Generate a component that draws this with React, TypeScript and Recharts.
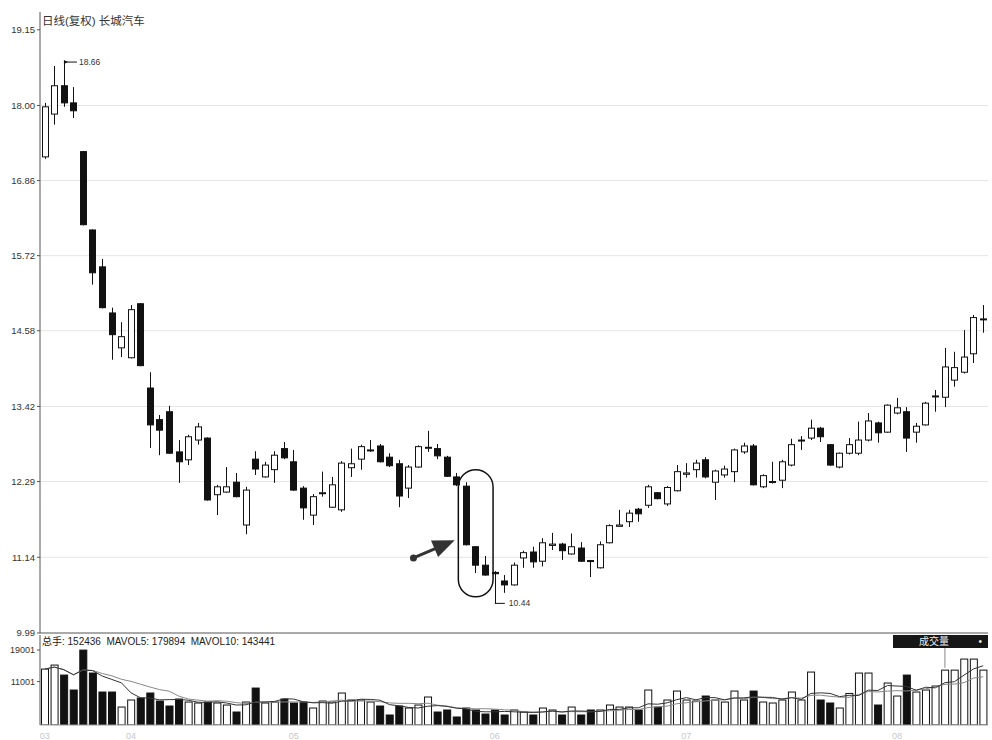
import React from 'react';
import {
  ComposedChart,
  Bar,
  Line,
  XAxis,
  YAxis,
  CartesianGrid,
  ReferenceArea,
  ReferenceDot,
  ReferenceLine,
} from 'recharts';

// ---------- data ----------
const openPrices = [
  17.22, 17.87, 18.3, 18.04, 17.3, 16.11, 15.55, 14.85, 14.32, 14.17,
  14.99, 13.71, 13.23, 13.35, 12.74, 12.62, 12.92, 12.95, 12.09, 12.13,
  12.28, 11.63, 12.63, 12.36, 12.47, 12.79, 12.59, 12.19, 11.78, 12.11,
  11.9, 11.86, 12.5, 12.63, 12.76, 12.83, 12.66, 12.56, 12.19, 12.51,
  12.8, 12.79, 12.66, 12.36, 12.22, 11.3, 11.02, 10.91, 10.78, 10.72,
  11.13, 11.22, 11.08, 11.32, 11.34, 11.19, 11.28, 11.09, 10.98, 11.36,
  11.61, 11.68, 11.87, 11.93, 12.12, 11.95, 12.15, 12.4, 12.47, 12.62,
  12.28, 12.39, 12.44, 12.74, 12.83, 12.21, 12.28, 12.31, 12.54, 12.91,
  12.95, 13.1, 12.85, 12.51, 12.72, 12.72, 12.92, 13.18, 13.04, 13.33,
  13.35, 13.04, 13.15, 13.58, 13.57, 13.83, 13.95, 14.23, 14.75,
];
const highPrices = [
  18.04, 18.6, 18.66, 18.28, 17.31, 16.12, 15.67, 14.93, 14.71, 14.97,
  15.0, 13.95, 13.3, 13.44, 12.92, 13.0, 13.18, 12.96, 12.24, 12.51,
  12.42, 12.21, 12.75, 12.59, 12.75, 12.89, 12.77, 12.22, 12.1, 12.44,
  12.36, 12.6, 12.79, 12.85, 12.92, 12.86, 12.72, 12.62, 12.54, 12.84,
  13.06, 12.86, 12.68, 12.42, 12.28, 11.31, 11.16, 10.93, 10.87, 11.06,
  11.24, 11.3, 11.43, 11.51, 11.36, 11.5, 11.37, 11.1, 11.38, 11.64,
  11.86, 11.86, 11.89, 12.24, 12.13, 12.22, 12.54, 12.57, 12.62, 12.66,
  12.47, 12.53, 12.79, 12.88, 12.86, 12.4, 12.59, 12.62, 12.94, 12.98,
  13.23, 13.12, 12.86, 12.73, 12.95, 13.2, 13.33, 13.2, 13.46, 13.56,
  13.42, 13.18, 13.5, 13.68, 14.32, 14.26, 14.59, 14.82, 14.97,
];
const lowPrices = [
  17.19, 17.71, 17.98, 17.81, 16.18, 15.28, 14.92, 14.14, 14.18, 14.16,
  14.04, 12.8, 12.69, 12.71, 12.27, 12.54, 12.85, 12.0, 11.78, 12.12,
  12.05, 11.49, 12.39, 12.35, 12.27, 12.63, 12.15, 11.71, 11.63, 12.06,
  11.89, 11.83, 12.36, 12.47, 12.74, 12.58, 12.51, 11.9, 12.04, 12.5,
  12.74, 12.63, 12.36, 12.22, 11.32, 10.9, 10.86, 10.44, 10.6, 10.71,
  10.98, 10.98, 11.0, 11.25, 11.1, 11.18, 11.07, 10.84, 10.97, 11.35,
  11.6, 11.6, 11.68, 11.89, 12.02, 11.92, 12.14, 12.35, 12.35, 12.34,
  12.01, 12.35, 12.28, 12.71, 12.23, 12.19, 12.26, 12.19, 12.52, 12.77,
  12.92, 12.89, 12.53, 12.49, 12.7, 12.69, 12.9, 12.88, 13.03, 13.31,
  12.74, 12.88, 13.14, 13.35, 13.42, 13.73, 13.93, 14.09, 14.55,
];
const closePrices = [
  17.98, 18.3, 18.04, 17.92, 16.19, 15.46, 14.93, 14.52, 14.49, 14.9,
  14.05, 13.15, 13.07, 12.72, 12.59, 12.97, 13.12, 12.01, 12.21, 12.21,
  12.06, 12.16, 12.48, 12.54, 12.69, 12.65, 12.16, 11.89, 12.06, 12.12,
  12.24, 12.57, 12.56, 12.82, 12.77, 12.59, 12.53, 12.07, 12.51, 12.82,
  12.81, 12.68, 12.37, 12.24, 11.33, 11.02, 10.87, 10.89, 10.72, 11.02,
  11.21, 11.07, 11.36, 11.34, 11.24, 11.3, 11.08, 11.08, 11.33, 11.62,
  11.63, 11.81, 11.8, 12.21, 12.03, 12.2, 12.44, 12.42, 12.57, 12.36,
  12.45, 12.48, 12.77, 12.83, 12.24, 12.38, 12.29, 12.59, 12.85, 12.92,
  13.1, 12.97, 12.54, 12.72, 12.85, 12.92, 13.21, 13.03, 13.45, 13.41,
  12.95, 13.13, 13.48, 13.59, 14.03, 14.02, 14.18, 14.78, 14.76,
];
const volumes = [
  14170, 15180, 12650, 8860, 18980, 13160, 8350, 8350, 4550, 6330,
  6830, 8100, 6070, 4810, 6580, 5820, 5570, 5820, 5570, 5060,
  3290, 5820, 9360, 5570, 5820, 6580, 5570, 5820, 4300, 6070,
  5820, 8100, 6330, 6330, 5820, 4810, 2530, 4810, 4300, 5060,
  7090, 3290, 3800, 2030, 4300, 3800, 2780, 3800, 2530, 3800,
  3290, 2530, 4300, 3800, 2530, 4550, 2530, 3800, 3800, 5060,
  4550, 4550, 3800, 8860, 4550, 6330, 8600, 6330, 6070, 7340,
  6330, 5820, 8600, 6330, 8600, 5820, 5570, 6330, 8350, 6330,
  13410, 6330, 5570, 4300, 8000, 13160, 13160, 5060, 10630, 7340,
  12650, 8350, 8860, 9870, 13900, 13900, 16700, 16700, 13900,
];

const priceTicks = [19.15, 18.0, 16.86, 15.72, 14.58, 13.43, 12.29, 11.14, 9.99];
const priceTickLabels = ['19.15', '18.00', '16.86', '15.72', '14.58', '13.42', '12.29', '11.14', '9.99'];
const gridValues = [18.0, 16.86, 15.72, 14.58, 13.43, 12.29, 11.14];
const volumeTicks = [11001, 19001];
const volumeTickLabels = ['11001', '19001'];
const monthTickIdx = [0, 9, 26, 47, 67, 89];
const monthLabels = ['03', '04', '05', '06', '07', '08'];

const titleText = '日线(复权) 长城汽车';
const volumeLegend = '总手: 152436  MAVOL5: 179894  MAVOL10: 143441';
const volumeBoxText = '成交量';

// ---------- derived ----------
const movingAvg = (arr: number[], n: number) =>
  arr.map((_, i) => {
    const s = Math.max(0, i - n + 1);
    const part = arr.slice(s, i + 1);
    return part.reduce((a, b) => a + b, 0) / part.length;
  });
const ma5 = movingAvg(volumes, 5);
const ma10 = movingAvg(volumes, 10);

const rows = openPrices.map((o, i) => ({
  i,
  o,
  h: highPrices[i],
  l: lowPrices[i],
  c: closePrices[i],
  range: [lowPrices[i], highPrices[i]],
  v: volumes[i],
  ma5: ma5[i],
  ma10: ma10[i],
}));

const maxHigh = Math.max(...highPrices);
const maxIdx = highPrices.indexOf(maxHigh);
const minLow = Math.min(...lowPrices);
const minIdx = lowPrices.indexOf(minLow);

const FONT = '"Liberation Sans", Arial, "Noto Sans CJK SC", sans-serif';
const INK = '#111';

// ---------- shapes ----------
const Candle = (props: any) => {
  const { x, y, width, height, payload } = props;
  if (x == null || payload == null) return null;
  const { o, h, l, c } = payload;
  const top0 = Math.min(y, y + height);
  const hh = Math.abs(height);
  const k = h - l > 0 ? hh / (h - l) : 0;
  const yOf = (v: number) => top0 + (h - v) * k;
  const cx = Math.round(x + width / 2) + 0.5;
  const bt = yOf(Math.max(o, c));
  const bb = yOf(Math.min(o, c));
  const bh = Math.max(1, bb - bt);
  const up = c >= o;
  const bw = 6;
  return (
    <g>
      <line x1={cx} x2={cx} y1={yOf(h)} y2={yOf(l)} stroke={INK} strokeWidth={1} />
      <rect
        x={cx - bw / 2}
        y={bt}
        width={bw}
        height={bh}
        fill={up ? '#fff' : INK}
        stroke={INK}
        strokeWidth={1}
      />
    </g>
  );
};

const VolBar = (props: any) => {
  const { x, y, width, height, payload } = props;
  if (x == null || payload == null) return null;
  const up = payload.c >= payload.o;
  return (
    <rect
      x={x + 0.5}
      y={y}
      width={Math.max(1, width - 1)}
      height={Math.max(0, height)}
      fill={up ? '#fff' : INK}
      stroke={INK}
      strokeWidth={1}
    />
  );
};

const OvalShape = (p: any) => {
  const pad = 3;
  const w = p.width + pad * 2;
  return (
    <rect
      x={p.x - pad}
      y={p.y}
      width={w}
      height={p.height}
      rx={w / 2}
      ry={w / 2}
      fill="none"
      stroke={INK}
      strokeWidth={1.5}
    />
  );
};

const ArrowShape = (p: any) => {
  const x0 = p.x;
  const y0 = p.y + p.height;
  const x1 = p.x + p.width + 3;
  const y1 = p.y;
  const dx = x1 - x0;
  const dy = y1 - y0;
  const len = Math.sqrt(dx * dx + dy * dy) || 1;
  const ux = dx / len;
  const uy = dy / len;
  const nx = -uy;
  const ny = ux;
  const headLen = 22;
  const headHalf = 9;
  const bx = x1 - ux * headLen;
  const by = y1 - uy * headLen;
  return (
    <g>
      <circle cx={x0} cy={y0} r={3.5} fill="#333" />
      <line x1={x0} y1={y0} x2={bx + ux * 4} y2={by + uy * 4} stroke="#333" strokeWidth={3} />
      <polygon
        points={`${x1},${y1} ${bx + nx * headHalf},${by + ny * headHalf} ${bx - nx * headHalf},${by - ny * headHalf}`}
        fill="#333"
      />
    </g>
  );
};

const MaxMarker = (p: any) => {
  const { cx, cy } = p;
  if (cx == null) return null;
  return (
    <g>
      <polygon points={`${cx},${cy - 2} ${cx + 4},${cy} ${cx},${cy + 2}`} fill={INK} />
      <line x1={cx} x2={cx + 13} y1={cy} y2={cy} stroke={INK} strokeWidth={1} />
      <text x={cx + 15} y={cy + 3} fontSize={8.5} fill="#333" fontFamily={FONT}>
        {maxHigh.toFixed(2)}
      </text>
    </g>
  );
};

const MinMarker = (p: any) => {
  const { cx, cy } = p;
  if (cx == null) return null;
  return (
    <g>
      <line x1={cx} x2={cx + 10} y1={cy} y2={cy} stroke={INK} strokeWidth={1} />
      <text x={cx + 14} y={cy + 3} fontSize={8.5} fill="#333" fontFamily={FONT}>
        {minLow.toFixed(2)}
      </text>
    </g>
  );
};

const priceFmt = (v: number) => {
  const k = priceTicks.indexOf(v);
  return k >= 0 ? priceTickLabels[k] : v.toFixed(2);
};
const volFmt = (v: number) => {
  const k = volumeTicks.indexOf(v);
  return k >= 0 ? volumeTickLabels[k] : String(v);
};
const monthFmt = (v: number) => {
  const k = monthTickIdx.indexOf(v);
  return k >= 0 ? monthLabels[k] : '';
};

export default function App() {
  return (
    <div
      style={{
        position: 'absolute',
        left: 0,
        top: 0,
        width: 992,
        height: 740,
        background: '#fff',
        overflow: 'hidden',
        fontFamily: FONT,
      }}
    >
      <div style={{ position: 'absolute', left: 0, top: 0 }}>
        <ComposedChart
          width={992}
          height={640}
          data={rows}
          margin={{ top: 12, right: 4, bottom: 5, left: 0 }}
          barCategoryGap={0}
        >
          <CartesianGrid
            vertical={false}
            horizontal
            stroke="#e4e4e4"
            horizontalValues={gridValues}
          />
          <XAxis
            dataKey="i"
            type="category"
            tick={false}
            tickLine={false}
            axisLine={{ stroke: '#555' }}
            height={2}
          />
          <YAxis
            domain={[9.99, 19.42]}
            ticks={priceTicks}
            interval={0}
            allowDataOverflow
            width={40}
            tickFormatter={priceFmt}
            tick={{ fontSize: 9.5, fill: '#333', fontFamily: FONT }}
            tickLine={{ stroke: '#555' }}
            tickSize={3}
            axisLine={{ stroke: '#555' }}
          />
          <YAxis
            yAxisId="r"
            orientation="right"
            width={0}
            tick={false}
            tickLine={false}
            axisLine={{ stroke: '#999' }}
          />
          <Bar dataKey="range" barSize={7} shape={<Candle />} isAnimationActive={false} />
          <ReferenceArea x1={44} x2={46} y1={10.54} y2={12.47} shape={<OvalShape />} />
          <ReferenceArea x1={39} x2={42} y1={11.13} y2={11.4} shape={<ArrowShape />} />
          <ReferenceDot x={maxIdx} y={maxHigh} r={0} shape={<MaxMarker />} />
          <ReferenceDot x={minIdx} y={minLow} r={0} shape={<MinMarker />} />
        </ComposedChart>
      </div>

      <div style={{ position: 'absolute', left: 0, top: 633 }}>
        <ComposedChart
          width={992}
          height={107}
          data={rows}
          margin={{ top: 2, right: 4, bottom: 0, left: 0 }}
          barCategoryGap={0}
        >
          <XAxis
            dataKey="i"
            type="category"
            ticks={monthTickIdx}
            interval={0}
            tickFormatter={monthFmt}
            tick={{ fontSize: 9, fill: '#c8c8c8', fontFamily: FONT }}
            tickLine={false}
            axisLine={{ stroke: '#999' }}
            height={15}
          />
          <YAxis
            domain={[0, 22800]}
            ticks={volumeTicks}
            interval={0}
            allowDataOverflow
            width={40}
            tickFormatter={volFmt}
            tick={{ fontSize: 9, fill: '#333', fontFamily: FONT }}
            tickLine={{ stroke: '#555' }}
            tickSize={3}
            axisLine={{ stroke: '#555' }}
          />
          <YAxis
            yAxisId="r"
            orientation="right"
            width={0}
            tick={false}
            tickLine={false}
            axisLine={{ stroke: '#999' }}
          />
          <Bar dataKey="v" barSize={8} shape={<VolBar />} isAnimationActive={false} />
          <Line
            dataKey="ma10"
            type="linear"
            stroke="#888"
            strokeWidth={1}
            dot={false}
            isAnimationActive={false}
          />
          <Line
            dataKey="ma5"
            type="linear"
            stroke="#333"
            strokeWidth={1}
            dot={false}
            isAnimationActive={false}
          />
          <ReferenceLine
            segment={[
              { x: 94, y: 22000 },
              { x: 94, y: 14500 },
            ]}
            stroke="#888"
            strokeWidth={1}
          />
        </ComposedChart>
      </div>

      <div
        style={{
          position: 'absolute',
          left: 42,
          top: 14,
          fontSize: 11.5,
          color: '#333',
          lineHeight: '14px',
          whiteSpace: 'nowrap',
        }}
      >
        {titleText}
      </div>
      <div
        style={{
          position: 'absolute',
          left: 42,
          top: 636,
          fontSize: 10,
          color: '#222',
          lineHeight: '12px',
          whiteSpace: 'pre',
        }}
      >
        {volumeLegend}
      </div>
      <div
        style={{
          position: 'absolute',
          left: 893,
          top: 635,
          width: 95,
          height: 13,
          background: '#161616',
          color: '#eee',
          fontSize: 10,
          lineHeight: '13px',
        }}
      >
        <span style={{ position: 'absolute', left: 26 }}>{volumeBoxText}</span>
        <span style={{ position: 'absolute', right: 6 }}>•</span>
      </div>
    </div>
  );
}
